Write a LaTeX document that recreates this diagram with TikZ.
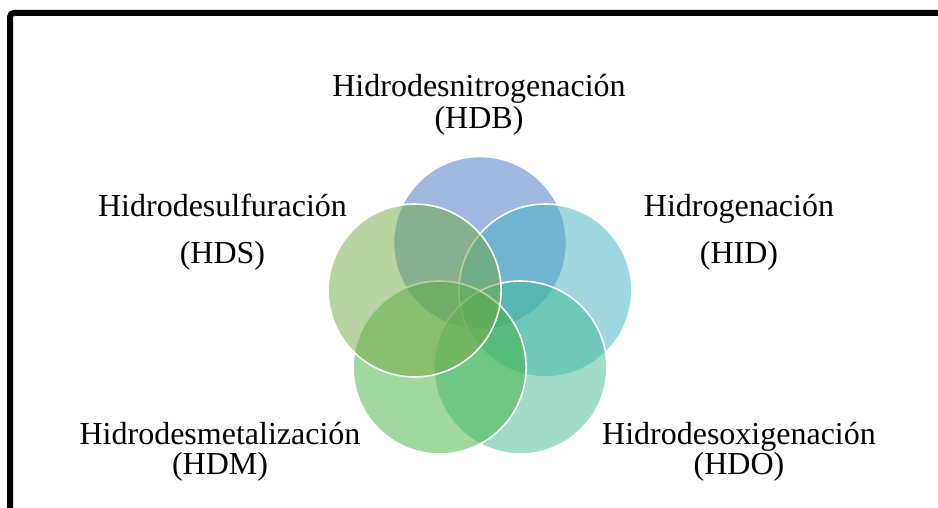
\documentclass[tikz,border=0pt]{standalone}
\usepackage{fontspec}
\setmainfont{Liberation Serif}
\definecolor{cBlue}{RGB}{65,113,193}
\definecolor{cTeal}{RGB}{65,177,193}
\definecolor{cSea}{RGB}{65,185,145}
\definecolor{cGreen}{RGB}{65,177,65}
\definecolor{cOlive}{RGB}{113,169,65}
\tikzset{
  venn/.style={circle, minimum size=173pt, inner sep=0pt, fill opacity=0.5, draw=white, line width=1.6pt},
  lbl/.style={anchor=base, inner sep=0pt, font=\fontsize{32}{36}\selectfont},
  frameline/.style={line width=6pt, rounded corners=4pt}
}
\begin{document}
\begin{tikzpicture}[x=1pt,y=-1pt]
\useasboundingbox (0,0) rectangle (938,508);
\clip (0,0) rectangle (938,508);
\coordinate (fa) at (10,530);
\coordinate (fb) at (10,13);
\coordinate (fc) at (960,13);
\draw[frameline] (fa) -- (fb) -- (fc);
% circles (pentagon arrangement)
\node[venn, fill=cBlue]  (top) at (480,243) {};
\node[venn, fill=cTeal]  (rgt) at (545.4,290.5) {};
\node[venn, fill=cSea]   (brt) at (520.4,367.5) {};
\node[venn, fill=cGreen] (blf) at (439.6,367.5) {};
\node[venn, fill=cOlive] (lft) at (414.6,290.5) {};
% labels
\node[lbl] (t1) at (479,97) {Hidrodesnitrogenación};
\node[lbl] (t2) at (479,129) {(HDB)};
\node[lbl] (s1) at (222.5,217) {Hidrodesulfuración};
\node[lbl] (s2) at (222.5,263) {(HDS)};
\node[lbl] (h1) at (739,217) {Hidrogenación};
\node[lbl] (h2) at (739,263) {(HID)};
\node[lbl] (m1) at (220,444) {Hidrodesmetalización};
\node[lbl] (m2) at (220,474) {(HDM)};
\node[lbl] (o1) at (739,444) {Hidrodesoxigenación};
\node[lbl] (o2) at (739,474) {(HDO)};
\end{tikzpicture}
\end{document}
